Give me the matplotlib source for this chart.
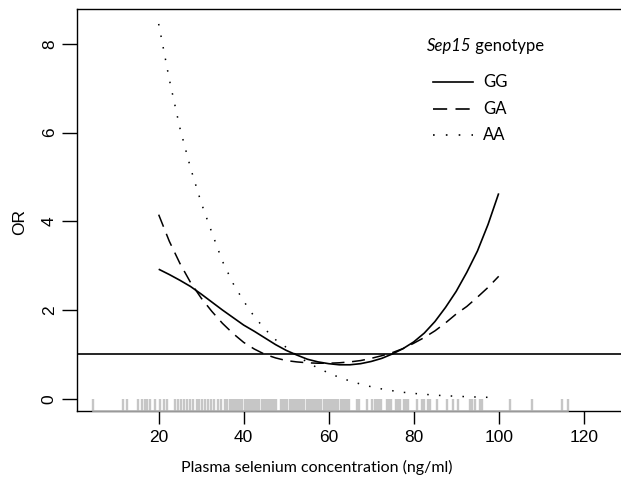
import matplotlib
matplotlib.use("Agg")
import matplotlib.pyplot as plt
from matplotlib.lines import Line2D

# selen (ng/ml) og OR per genotype, lest av figuren
sel = [20, 22.5, 25, 27.5, 30, 32.5, 35, 37.5, 40, 42.5, 45, 47.5, 50, 52.5,
       55, 57.5, 60, 62.5, 65, 67.5, 70, 72.5, 75, 77.5, 80, 82.5, 85, 87.5,
       90, 92.5, 95, 97.5, 100]
or_gg = [2.92, 2.80, 2.67, 2.53, 2.36, 2.18, 2.00, 1.83, 1.66, 1.52, 1.37,
         1.22, 1.09, 0.985, 0.89, 0.83, 0.79, 0.765, 0.765, 0.79, 0.84, 0.91,
         1.01, 1.13, 1.28, 1.48, 1.74, 2.06, 2.42, 2.85, 3.33, 3.93, 4.63]
or_ga = [4.15, 3.55, 3.05, 2.62, 2.27, 1.97, 1.70, 1.47, 1.27, 1.12, 1.00,
         0.92, 0.86, 0.83, 0.81, 0.80, 0.80, 0.81, 0.83, 0.86, 0.91, 0.97,
         1.04, 1.13, 1.25, 1.38, 1.53, 1.71, 1.91, 2.08, 2.29, 2.51, 2.76]
sel_aa = [20, 22.5, 25, 27.5, 30, 32.5, 35, 37.5, 40, 42.5, 45, 47.5, 50,
          52.5, 55, 57.5, 60, 62.5, 65, 67.5, 70, 72.5, 75, 77.5, 80, 85, 90,
          95, 98]
or_aa = [8.45, 7.2, 6.1, 5.2, 4.42, 3.75, 3.1, 2.6, 2.2, 1.85, 1.57, 1.33,
         1.16, 0.98, 0.82, 0.69, 0.58, 0.48, 0.40, 0.33, 0.27, 0.22, 0.18,
         0.145, 0.12, 0.08, 0.055, 0.037, 0.03]

# rug: observerte selenverdier
rug_low = [4.6, 11.7, 12.6, 15.2, 16.0, 16.8, 17.3, 18.0, 19.1, 20.3, 21.3,
           21.9, 23.9, 24.6, 25.2, 26.0, 26.7, 27.4, 28.0]
rug_mid = [29.0, 29.6, 30.1, 31.0, 31.6, 32.2, 33.0, 34.0, 34.6, 35.6, 36.1,
           36.7, 37.2, 37.7, 38.2, 38.7, 39.2, 39.7, 40.2, 40.7, 41.2, 41.7,
           42.2, 42.7, 43.2, 43.7, 44.2, 44.7, 45.2, 45.7, 46.2, 46.7, 47.2,
           47.7, 48.8, 49.3, 49.8, 50.3, 50.8, 51.3, 51.8, 52.3, 52.8, 53.3,
           53.8, 54.3, 54.8, 55.3, 55.8, 56.3, 56.8, 57.3, 57.8, 58.3, 58.8,
           59.3, 59.8, 60.3, 60.8, 61.3, 61.8, 62.3, 62.8, 63.3, 63.8, 64.3,
           64.8, 66.6, 67.2, 69.1, 70.3, 70.8, 71.3, 71.8, 72.4, 73.8, 74.3,
           74.7, 75.8, 76.3, 76.8, 77.7, 78.1]
rug_high = [78.7, 80.8, 81.9, 82.5, 83.4, 83.8, 85.4, 87.8, 89.3, 90.5, 93.2,
            93.8, 94.4, 95.6, 96.0, 102.7, 107.8, 115.0, 116.4]
rug = rug_low + rug_mid + rug_high

xticks = [20, 40, 60, 80, 100, 120]
yticks = [0, 2, 4, 6, 8]
genotypes = ["GG", "GA", "AA"]

W, H = 621, 484
def fx(px):
    return px / W
def fy(py):
    return 1 - py / H

fig = plt.figure(figsize=(W / 100, H / 100), dpi=100)
ax = fig.add_axes([fx(77), fy(411), fx(621) - fx(77), fy(9) - fy(411)])

ls_ga = (0, (8.5, 5))
ls_aa = (0, (1, 6.7))

ax.axhline(1, color="black", lw=1.2, zorder=2)
ax.plot(sel, or_gg, color="black", lw=1.2, solid_capstyle="butt")
ax.plot(sel, or_ga, color="black", lw=1.1, ls=ls_ga)
ax.plot(sel_aa, or_aa, color="black", lw=1.1, ls=ls_aa)

# rug langs x-aksen (som rug() i R)
xt = ax.get_xaxis_transform()
ax.vlines(rug, 0, 0.03, transform=xt, color="#c6c6c6", lw=1.7, zorder=1)
ax.plot([min(rug), max(rug)], [0, 0], transform=xt, color="#b8b8b8",
        lw=1.2, clip_on=False, zorder=3)

ax.set_xlim(0.78, 128.78)
ax.set_ylim(-0.277, 8.787)
ax.spines["right"].set_visible(False)
for s in ["left", "top", "bottom"]:
    ax.spines[s].set_linewidth(1.0)
ax.set_xticks(xticks)
ax.set_yticks(yticks)
ax.tick_params(axis="x", length=9.5, width=1.0, pad=4, labelsize=12.5)
ax.tick_params(axis="y", length=10.5, width=1.0, pad=4, labelsize=12.5)
for lab in ax.get_xticklabels() + ax.get_yticklabels():
    lab.set_fontfamily("Liberation Sans")
for lab in ax.get_yticklabels():
    lab.set_rotation(90)
    lab.set_va("center")

fig.text(fx(20), fy(222), "OR", rotation=90, ha="center", va="center",
         fontsize=12.5, family="Liberation Sans")
fig.text(fx(317), fy(467), "Plasma selenium concentration (ng/ml)",
         ha="center", va="center", fontsize=11.5, family="Lato")

# legende
t1 = fig.text(fx(427), fy(46), "Sep15", ha="left", va="center",
              fontsize=12, style="italic", family="Lato")
ax.annotate(" genotype", xy=(1, 0.5), xycoords=t1, ha="left", va="center",
            fontsize=12, family="Lato")
rows = [82, 109, 135]
styles = ["-", ls_ga, ls_aa]
for g, ry, st in zip(genotypes, rows, styles):
    fig.add_artist(Line2D([fx(433), fx(473)], [fy(ry), fy(ry)], color="black",
                          lw=1.2, ls=st))
    fig.text(fx(483), fy(ry), g, ha="left", va="center", fontsize=12,
             family="Lato")

fig.savefig("out.png", dpi=100)
